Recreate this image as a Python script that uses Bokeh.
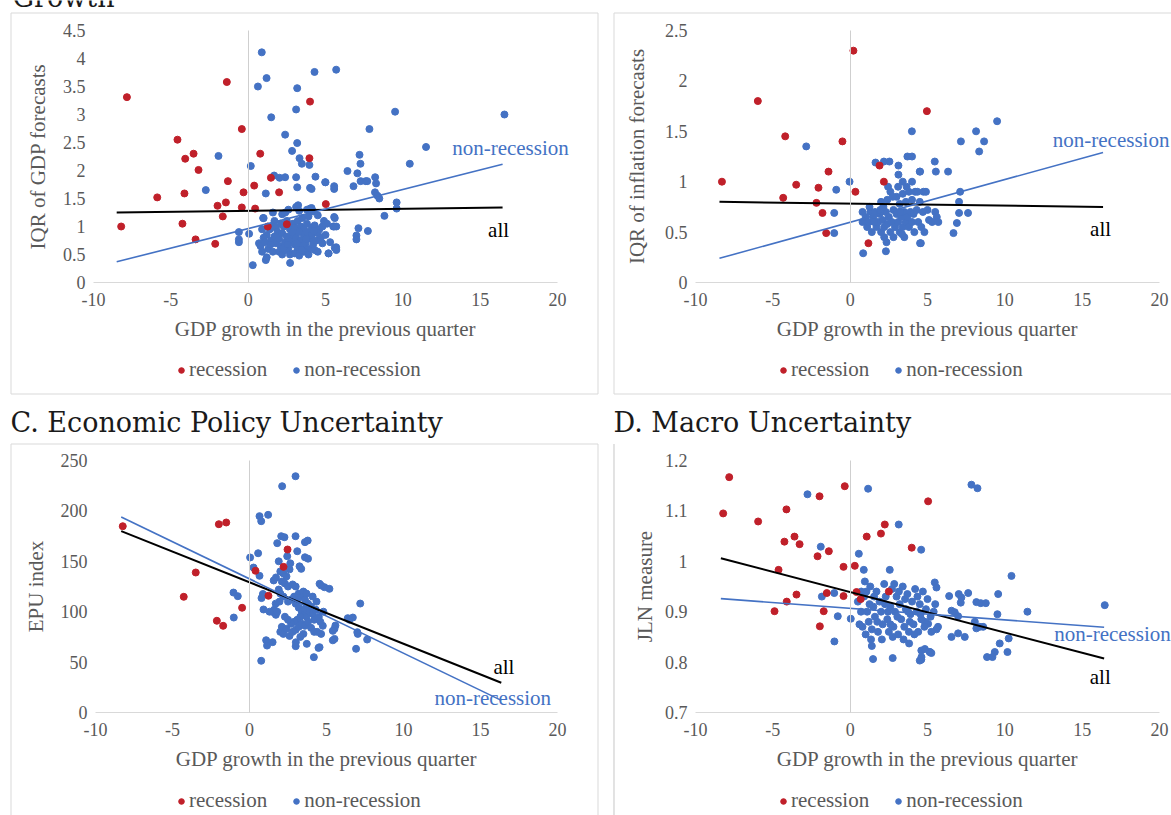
from bokeh.plotting import figure
from bokeh.layouts import column, row
from bokeh.models import (Range1d, FixedTicker, Label, Legend, LegendItem,
                          BoxAnnotation, LinearAxis)
from bokeh.embed import file_html
from bokeh.resources import INLINE

# ---------------------------------------------------------------- data
x_ticks = [-10, -5, 0, 5, 10, 15, 20]
x_tick_labels = ["-10", "-5", "0", "5", "10", "15", "20"]
x_title = "GDP growth in the previous quarter"

# Panel A: IQR of GDP forecasts
a_y_ticks = [0, 0.5, 1, 1.5, 2, 2.5, 3, 3.5, 4, 4.5]
a_y_tick_labels = ["0", "0.5", "1", "1.5", "2", "2.5", "3", "3.5", "4", "4.5"]
a_rec_x = [-7.84, -1.38, 4.0, -0.41, -4.57, -3.53, -4.07, 0.78, 3.96, -3.21, -1.31, 1.47,
           0.39, 2.0, -0.30, -4.12, -5.88, -1.44, -1.98, -0.41, 0.45, -1.64, -8.21, -4.25,
           -3.40, -2.13, 1.27, 5.02, 2.5]
a_rec_y = [3.31, 3.58, 3.23, 2.74, 2.55, 2.30, 2.21, 2.30, 2.22, 2.01, 1.81, 1.87,
           1.73, 1.61, 1.61, 1.59, 1.52, 1.43, 1.37, 1.34, 1.32, 1.18, 1.0, 1.05,
           0.77, 0.69, 1.0, 1.40, 1.04]
a_non_x = [0.88, 4.29, 1.19, 0.63, 3.17, 3.10, 1.49, 2.39, 3.17, 2.84, 3.32, 3.47, 3.96,
           -1.92, 0.17, -2.74, 1.68, 2.03, 2.39, 3.10, 4.35, 4.98, 3.17, 4.0, 4.1, 1.14,
           3.23, 4.1, 0.06, -0.6, -0.6, -0.6, 0.3, 1.14, 2.71, 0.97,
           5.69, 9.50, 16.57, 7.84, 11.5, 7.2, 7.26, 10.45, 6.42, 7.06, 5.0, 5.56, 5.56,
           6.81, 7.27, 7.6, 7.7, 8.21, 8.27, 8.2, 8.36, 8.48, 9.6, 9.6, 8.81, 5.56, 7.13,
           7.74, 7.0, 7.0, 5.56, 5.19, 5.69,
           1.0, 1.6, 1.7, 2.2, 2.4, 2.6, 3.1, 3.3, 3.8, 4.0, 4.2, 4.5, 4.9, 5.1, 5.6,
           0.9, 1.2, 1.4, 1.6, 1.8, 1.9, 2.1, 2.3, 2.5, 2.7, 2.9, 3.0, 3.2, 3.4, 3.5, 3.6,
           3.8, 3.9, 4.1, 4.3, 4.6, 4.8, 5.5, 5.7,
           0.7, 0.8, 1.0, 1.1, 1.3, 1.5, 1.7, 1.8, 2.0, 2.1, 2.2, 2.4, 2.5, 2.6, 2.8, 2.9,
           3.0, 3.1, 3.2, 3.3, 3.4, 3.5, 3.6, 3.7, 3.8, 3.9, 4.0, 4.1, 4.2, 4.4, 4.5, 4.7,
           4.8, 5.0, 5.3, 5.6, 5.7,
           0.9, 1.2, 1.6, 2.0, 2.2, 2.4, 2.7, 3.0, 3.3, 3.6, 3.9, 4.3, 4.5, 5.2,
           2.3, 3.15, 3.75, 2.85, 4.25, 1.45, 2.55, 3.45]
a_non_y = [4.11, 3.76, 3.65, 3.50, 3.47, 3.09, 2.95, 2.64, 2.49, 2.35, 2.22, 2.12, 2.10,
           2.26, 2.08, 1.65, 1.91, 1.87, 1.88, 1.88, 1.89, 1.79, 1.70, 1.69, 1.67, 1.59,
           1.38, 1.33, 0.87, 0.90, 0.77, 0.72, 0.31, 0.40, 0.35, 1.15,
           3.80, 3.05, 3.0, 2.74, 2.42, 2.28, 2.12, 2.12, 1.99, 1.95, 1.79, 1.72, 1.67,
           1.72, 1.81, 1.81, 1.81, 1.88, 1.77, 1.61, 1.55, 1.50, 1.43, 1.32, 1.19, 1.17,
           0.97, 0.92, 0.84, 0.77, 1.0, 0.52, 0.63,
           1.15, 1.25, 1.1, 1.22, 1.25, 1.3, 1.35, 1.28, 1.3, 1.32, 1.27, 1.2, 1.1, 1.05, 1.15,
           0.95, 0.85, 0.95, 1.0, 0.98, 0.9, 1.05, 1.0, 1.1, 0.95, 1.05, 0.98, 1.1, 1.0,
           1.15, 0.95, 1.05, 1.18, 0.98, 1.02, 0.95, 1.0, 1.0, 1.0,
           0.7, 0.65, 0.8, 0.72, 0.6, 0.75, 0.82, 0.7, 0.78, 0.65, 0.88, 0.72, 0.82, 0.6,
           0.75, 0.85, 0.68, 0.8, 0.6, 0.9, 0.75, 0.65, 0.82, 0.7, 0.9, 0.6, 0.78, 0.85,
           0.68, 0.75, 0.88, 0.8, 0.7, 0.85, 0.72, 0.62, 0.58,
           0.55, 0.45, 0.55, 0.55, 0.5, 0.58, 0.5, 0.52, 0.48, 0.55, 0.5, 0.58, 0.55, 0.52,
           0.62, 0.7, 0.78, 0.9, 0.92, 0.68, 0.68, 0.58]
a_fit_x = [-8.5, 16.45]
a_fit_all = [1.25, 1.34]
a_fit_non = [0.37, 2.11]

# Panel B: IQR of inflation forecasts
b_y_ticks = [0, 0.5, 1, 1.5, 2, 2.5]
b_y_tick_labels = ["0", "0.5", "1", "1.5", "2", "2.5"]
b_rec_x = [0.21, -5.97, 4.96, -4.2, -0.50, -8.29, -1.40, -3.49, -2.05, 0.34, -4.33, -2.18,
           -1.79, -1.55, 1.18, 1.90, 2.18]
b_rec_y = [2.30, 1.80, 1.70, 1.45, 1.40, 1.0, 1.10, 0.97, 0.94, 0.90, 0.84, 0.79,
           0.69, 0.49, 0.39, 1.16, 1.0]
b_non_x = [-2.84, 3.99, -0.04, -0.9, -1.03, -1.03, 0.84, 2.31, 4.57, 1.64, 2.18, 2.54,
           3.12, 3.7, 4.0, 3.12, 4.5, 3.4, 4.0, 9.5, 8.14, 7.16, 8.66, 8.34, 5.47, 5.54,
           6.33, 4.52, 7.11, 4.74, 7.04, 7.04, 7.62, 6.9, 6.68, 4.52,
           0.8, 0.8, 1.0, 1.1, 1.2, 1.3, 1.4, 1.5, 1.6, 1.7, 1.8, 1.9, 2.0, 2.0, 2.1, 2.2,
           2.2, 2.3, 2.4, 2.4, 2.5, 2.6, 2.6, 2.7, 2.8, 2.8, 2.9, 3.0, 3.0, 3.1, 3.1, 3.2,
           3.2, 3.3, 3.4, 3.4, 3.5, 3.5, 3.6, 3.6, 3.7, 3.8, 3.8, 3.9, 4.0, 4.0, 4.1, 4.2,
           4.3, 4.4, 4.5, 4.6, 4.7, 4.8, 4.9, 5.0, 5.1, 5.3, 5.5, 5.6, 5.7, 2.35, 1.95,
           2.75, 3.35, 4.15, 1.25, 2.45, 3.65, 4.35, 1.55, 2.15, 3.25]
b_non_y = [1.35, 1.50, 1.0, 0.92, 0.69, 0.49, 0.29, 0.31, 0.39, 1.19, 1.2, 1.2,
           1.16, 1.25, 1.25, 1.07, 1.1, 1.0, 1.0, 1.60, 1.50, 1.40, 1.40, 1.30, 1.2, 1.1,
           1.1, 1.1, 0.90, 0.90, 0.80, 0.69, 0.69, 0.59, 0.49, 0.39,
           0.7, 0.6, 0.65, 0.55, 0.6, 0.7, 0.5, 0.65, 0.7, 0.55, 0.6, 0.68, 0.5, 0.8, 0.62,
           0.55, 0.45, 0.7, 0.58, 0.82, 0.65, 0.5, 0.9, 0.6, 0.72, 0.45, 0.55, 0.68, 0.85,
           0.6, 0.95, 0.5, 0.78, 0.65, 0.55, 0.88, 0.7, 0.45, 0.6, 0.8, 0.65, 0.55, 0.9,
           0.7, 0.6, 0.82, 0.68, 0.9, 0.72, 0.6, 0.8, 0.55, 0.7, 0.5, 0.9, 0.72, 0.62, 0.6,
           0.7, 0.65, 0.6, 0.4, 0.72, 0.85, 0.48, 0.5, 0.75, 0.95, 0.95, 0.9, 0.6, 0.75,
           0.7]
b_fit_x = [-8.45, 16.35]
b_fit_all = [0.80, 0.75]
b_fit_non = [0.24, 1.29]

# Panel C: Economic Policy Uncertainty
c_y_ticks = [0, 50, 100, 150, 200, 250]
c_y_tick_labels = ["0", "50", "100", "150", "200", "250"]
c_rec_x = [-8.23, -1.99, -1.51, -3.49, -4.27, -0.48, -2.12, -1.71, 2.47, 0.39, 1.23, 2.21]
c_rec_y = [184.8, 186.8, 188.5, 138.9, 114.8, 103.9, 91, 86, 161.7, 140.6, 115.8, 144.5]
c_non_x = [2.99, 2.12, 0.65, 0.76, 1.21, 0.04, 0.56, -1.04, -0.76, -1.02, 0.76, 0.26, 0.65,
           0.78, 0.91, 1.08, 1.14, 1.5, 1.8, 2.06, 2.27, 2.99, 3.6, 3.78, 3.1, 3.6, 3.8,
           1.9, 3.36, 4.55, 1.57, 1.72, 0.87, 1.56, 1.71, 4.18, 3.0, 3.72, 4.48, 3.01,
           7.19, 5.19, 4.87, 4.65, 6.71, 6.38, 6.49, 5.58, 5.52, 5.41, 5.52, 5.41, 7.0,
           7.03, 7.64, 6.92, 4.55, 4.76, 4.65,
           2.0, 2.2, 2.4, 2.6, 2.1, 2.3, 2.5, 1.9, 2.0, 2.2, 2.8, 3.0, 3.2, 3.4, 3.6, 3.0,
           3.2, 3.4, 3.5, 3.6, 3.7, 3.8, 3.9, 4.0, 4.1, 4.2, 4.3, 4.5, 4.6, 4.8, 3.3, 3.1,
           2.9, 2.7, 2.5, 2.3, 2.1, 2.0, 2.2, 2.4, 2.6, 2.8, 3.0, 3.2, 3.4, 3.6, 3.8, 4.0,
           4.2, 4.4, 3.5, 3.3, 1.6, 1.8, 2.5, 2.7, 2.9, 3.1, 3.5, 3.7, 1.3, 1.7, 2.45,
           2.65, 3.25, 1.95, 4.35, 4.1]
c_non_y = [234.4, 224.5, 194.8, 189.8, 196.1, 153.8, 158, 119, 115.4, 94.2, 51.3, 143.8,
           135.6, 113.5, 102.2, 71.7, 66.4, 69.8, 168, 174.9, 173.9, 174.9, 169, 170.6,
           160, 154, 152.6, 150, 142.5, 127.7, 131, 134, 117.6, 99.5, 96.9, 54.9, 65.8,
           68.1, 64.1, 69.7,
           108.1, 122.7, 124.3, 126, 94.2, 93.6, 92, 86.3, 83, 81, 73, 71.6, 79.7, 78,
           72.4, 63.2, 64.8, 86, 78,
           140, 138, 135, 142, 130, 128, 125, 122, 118, 115, 127, 125, 118, 115, 112, 108,
           104, 100, 97, 103, 95, 108, 100, 105, 98, 92, 102, 95, 90, 100, 95, 92,
           90, 88, 92, 95, 85, 80, 78, 83, 76, 80, 82, 85, 88, 86, 90, 84,
           80, 80, 78, 75, 102, 100, 110, 112, 115, 112, 120, 118, 100, 108, 155,
           148, 145, 110, 110, 115]
c_fit_x = [-8.33, 16.35]
c_fit_all = [180.0, 29.5]
c_fit_non = [194.0, 12.0]

# Panel D: Macro Uncertainty (JLN)
d_y_ticks = [0.7, 0.8, 0.9, 1.0, 1.1, 1.2]
d_y_tick_labels = ["0.7", "0.8", "0.9", "1", "1.1", "1.2"]
d_rec_x = [-7.82, -8.21, -5.95, -4.12, -1.98, -0.35, 5.04, 2.24, 1.99, 1.07, 3.98, -3.6,
           -4.25, -3.27, -2.11, -1.38, -0.43, 0.30, -4.63, -3.47, -4.1, -4.89, -1.51,
           -0.43, -1.71, -1.96, 0.41, 0.68, 2.5]
d_rec_y = [1.167, 1.095, 1.079, 1.103, 1.129, 1.149, 1.119, 1.073, 1.055, 1.049, 1.027,
           1.049, 1.039, 1.034, 1.010, 1.02, 0.989, 0.991, 0.983, 0.934, 0.920, 0.901,
           0.937, 0.931, 0.901, 0.871, 0.939, 0.925, 0.94]
d_non_x = [-2.76, 1.16, 3.14, -1.9, 0.56, 4.59, 0.88, 2.56, -1.83, -1.03, -0.8, 0.04,
           -1.02, 1.4, 1.48, 2.75, 4.6, 4.6, 4.5, 3.81, 5.15, 0.72,
           7.84, 8.23, 10.43, 5.47, 5.58, 9.57, 7.63, 7.02, 7.19, 7.15, 6.4, 8.16, 8.44,
           8.77, 11.46, 16.46, 9.52, 6.55, 6.76, 6.98, 8.06, 8.16, 8.38, 8.6, 6.55, 6.98,
           7.41, 10.25, 9.67, 9.35, 10.17, 8.85, 9.2, 5.68, 5.58, 5.25, 5.04, 4.83, 5.15,
           5.25, 4.61, 4.83,
           0.5, 0.7, 0.8, 0.9, 1.0, 1.1, 1.2, 1.3, 1.4, 1.5, 1.6, 1.7, 1.8, 1.9, 2.0, 2.1,
           2.2, 2.3, 2.4, 2.5, 2.6, 2.7, 2.8, 2.9, 3.0, 3.1, 3.2, 3.3, 3.4, 3.5, 3.6, 3.7,
           3.8, 3.9, 4.0, 4.1, 4.2, 4.3, 4.4, 4.5, 4.6, 4.7, 4.8, 4.9, 5.0, 5.2, 5.4, 5.5,
           1.05, 1.75, 2.45, 3.15, 3.85, 4.55, 2.05, 2.75, 3.45, 4.15, 1.35, 0.95, 2.85,
           3.55, 2.25, 1.55, 4.35, 3.05, 3.75, 2.6, 0.6, 1.25]
d_non_y = [1.133, 1.144, 1.073, 1.029, 1.015, 1.023, 0.983, 0.983, 0.93, 0.937, 0.891,
           0.886, 0.841, 0.832, 0.806, 0.808, 0.823, 0.805, 0.803, 0.837, 0.82, 0.94,
           1.152, 1.145, 0.971, 0.958, 0.948, 0.935, 0.937, 0.935, 0.928, 0.918, 0.931,
           0.919, 0.917, 0.917, 0.9, 0.913, 0.895, 0.902, 0.899, 0.891, 0.88, 0.867, 0.87,
           0.87, 0.85, 0.857, 0.85, 0.847, 0.837, 0.82, 0.82, 0.81, 0.81, 0.87, 0.865,
           0.86, 0.876, 0.88, 0.82, 0.818, 0.81, 0.826,
           0.92, 0.9, 0.87, 0.93, 0.855, 0.9, 0.88, 0.95, 0.865, 0.91, 0.89, 0.94, 0.86,
           0.92, 0.9, 0.875, 0.955, 0.93, 0.885, 0.86, 0.91, 0.945, 0.87, 0.9, 0.93,
           0.855, 0.915, 0.885, 0.95, 0.87, 0.905, 0.935, 0.86, 0.895, 0.92, 0.875, 0.945,
           0.9, 0.86, 0.915, 0.885, 0.94, 0.87, 0.905, 0.925, 0.89, 0.9, 0.915,
           0.94, 0.88, 0.9, 0.94, 0.88, 0.895, 0.845, 0.85, 0.845, 0.855, 0.845, 0.96,
           0.955, 0.925, 0.915, 0.93, 0.93, 0.89, 0.9, 0.875, 0.875, 0.915]
d_fit_x = [-8.36, 16.42]
d_fit_all = [1.006, 0.807]
d_fit_non = [0.926, 0.869]

# ---------------------------------------------------------------- styling
SERIF = "Liberation Serif"
TITLE_FONT = "DejaVu Serif"
GREY = "#595959"
RED = "#c0202a"
BLUE = "#4472c4"
FRAME_GREY = "#d9d9d9"
ZERO_GREY = "#cfcfcf"


def span_range(px_a, v_a, px_b, v_b, size, vertical=False):
    """Range covering a whole canvas side, given two pixel anchors."""
    per_px = (v_b - v_a) / (px_b - px_a)
    at = lambda px: v_a + (px - px_a) * per_px
    return Range1d(at(size), at(0)) if vertical else Range1d(at(0), at(size))


def border(p, left, right, top, bottom):
    p.add_layout(BoxAnnotation(left=left, right=right, top=top, bottom=bottom,
                               left_units="screen", right_units="screen",
                               top_units="screen", bottom_units="screen",
                               fill_color=None, line_color=FRAME_GREY, line_alpha=1,
                               line_width=1))


def panel(width, height, x_anchor, y_anchor, y_ticks, y_labels, y_title,
          y_title_standoff, rec, non, fit_x, fit_all, fit_non, label_non, label_all,
          legend_xy, boxes, heading=None):
    y0, y1 = y_ticks[0], y_ticks[-1]
    p = figure(width=width, height=height, output_backend="svg", toolbar_location=None,
               x_range=span_range(x_anchor[0], -10, x_anchor[1], 20, width),
               y_range=span_range(y_anchor[0], y0, y_anchor[1], y1, height, True),
               min_border=0, min_border_left=0, min_border_right=0,
               min_border_top=0, min_border_bottom=0)
    p.outline_line_color = None
    p.grid.visible = False
    p.background_fill_color = "white"
    p.border_fill_color = "white"

    # axes pinned inside the frame
    xa, ya = p.xaxis[0], p.yaxis[0]
    xa.fixed_location = y0
    xa.bounds = (-10, 20)
    ya.fixed_location = -10
    ya.bounds = (y0, y1)
    xa.ticker = FixedTicker(ticks=x_ticks)
    xa.major_label_overrides = {float(t): s for t, s in zip(x_ticks, x_tick_labels)}
    ya.ticker = FixedTicker(ticks=y_ticks)
    ya.major_label_overrides = {float(t): s for t, s in zip(y_ticks, y_labels)}
    for ax in (xa, ya):
        ax.major_tick_in = 0
        ax.major_tick_out = 0
        ax.minor_tick_line_color = None
        ax.major_label_text_font = SERIF
        ax.major_label_text_font_size = "18px"
        ax.major_label_text_color = GREY
        ax.axis_label_text_font = SERIF
        ax.axis_label_text_font_size = "21px"
        ax.axis_label_text_font_style = "normal"
        ax.axis_label_text_color = GREY
    xa.axis_line_color = FRAME_GREY
    xa.major_label_standoff = 10
    xa.axis_label = x_title
    xa.axis_label_standoff = 8
    ya.axis_line_color = None
    ya.major_label_standoff = 8
    ya.axis_label = y_title
    ya.axis_label_standoff = y_title_standoff

    # vertical axis line crossing at zero growth
    zero_axis = LinearAxis(fixed_location=0, bounds=(y0, y1),
                           ticker=FixedTicker(ticks=[]), axis_line_color=ZERO_GREY,
                           major_tick_in=0, major_tick_out=0,
                           minor_tick_line_color=None)
    p.add_layout(zero_axis, "left")

    for b in boxes:
        border(p, *b)

    r_non = p.scatter(non[0], non[1], size=7, color=BLUE, line_color=BLUE)
    r_rec = p.scatter(rec[0], rec[1], size=7, color=RED, line_color=RED)

    p.line(fit_x, fit_all, line_color="black", line_width=2)
    p.line(fit_x, fit_non, line_color=BLUE, line_width=1.6)

    p.add_layout(Label(x=label_non[0], y=label_non[1], text="non-recession",
                       text_font=SERIF, text_font_size="21px", text_color=BLUE,
                       text_baseline="alphabetic"))
    p.add_layout(Label(x=label_all[0], y=label_all[1], text="all",
                       text_font=SERIF, text_font_size="21px", text_color="black",
                       text_baseline="alphabetic"))

    legend = Legend(items=[LegendItem(label="recession", renderers=[r_rec]),
                           LegendItem(label="non-recession", renderers=[r_non])],
                    orientation="horizontal", location=legend_xy,
                    padding=0, margin=0, spacing=22, label_standoff=1,
                    glyph_width=14, glyph_height=20, label_height=20,
                    border_line_color=None, background_fill_alpha=0,
                    label_text_font=SERIF, label_text_font_size="21px",
                    label_text_color=GREY)
    p.add_layout(legend)

    if heading is not None:
        text, hx, hy = heading
        p.add_layout(Label(x=hx, y=hy, x_units="screen", y_units="screen", text=text,
                           text_font=TITLE_FONT, text_font_size="27px",
                           text_color="#1a1a1a", text_baseline="alphabetic"))
    return p


# pixel anchors: (-10, 20) horizontally, (bottom tick, top tick) vertically
pA = panel(605, 400, (93, 557), (282, 30), a_y_ticks, a_y_tick_labels,
           "IQR of GDP forecasts", 10, (a_rec_x, a_rec_y), (a_non_x, a_non_y),
           a_fit_x, a_fit_all, a_fit_non, (13.19, 2.41), (15.51, 0.94), (174, 18),
           [(10.5, 597.5, 387.5, 6.5)], heading=("Growth", 12, 403))

pB = panel(566, 400, (90, 554), (282, 30), b_y_ticks, b_y_tick_labels,
           "IQR of inflation forecasts", 13, (b_rec_x, b_rec_y), (b_non_x, b_non_y),
           b_fit_x, b_fit_all, b_fit_non, (13.1, 1.417), (15.51, 0.527), (171, 18),
           [(8.5, 1000, 387.5, 6.5)])

pC = panel(605, 415, (95, 557), (312, 60), c_y_ticks, c_y_tick_labels,
           "EPU index", 10, (c_rec_x, c_rec_y), (c_non_x, c_non_y),
           c_fit_x, c_fit_all, c_fit_non, (12.01, 13.9), (15.84, 44.7), (174, 2),
           [(10.5, 597.5, 371.5, -100)],
           heading=("C. Economic Policy Uncertainty", 10, 393))

pD = panel(566, 415, (90, 554), (312, 60), d_y_ticks, d_y_tick_labels,
           "JLN measure", 5, (d_rec_x, d_rec_y), (d_non_x, d_non_y),
           d_fit_x, d_fit_all, d_fit_non, (13.19, 0.855), (15.49, 0.771), (171, 2),
           [(8.5, 8.5, 371.5, -100)],
           heading=("D. Macro Uncertainty", 8, 393))

layout = column(row(pA, pB), row(pC, pD))

with open("out.html", "w") as f:
    f.write(file_html(layout, INLINE))
